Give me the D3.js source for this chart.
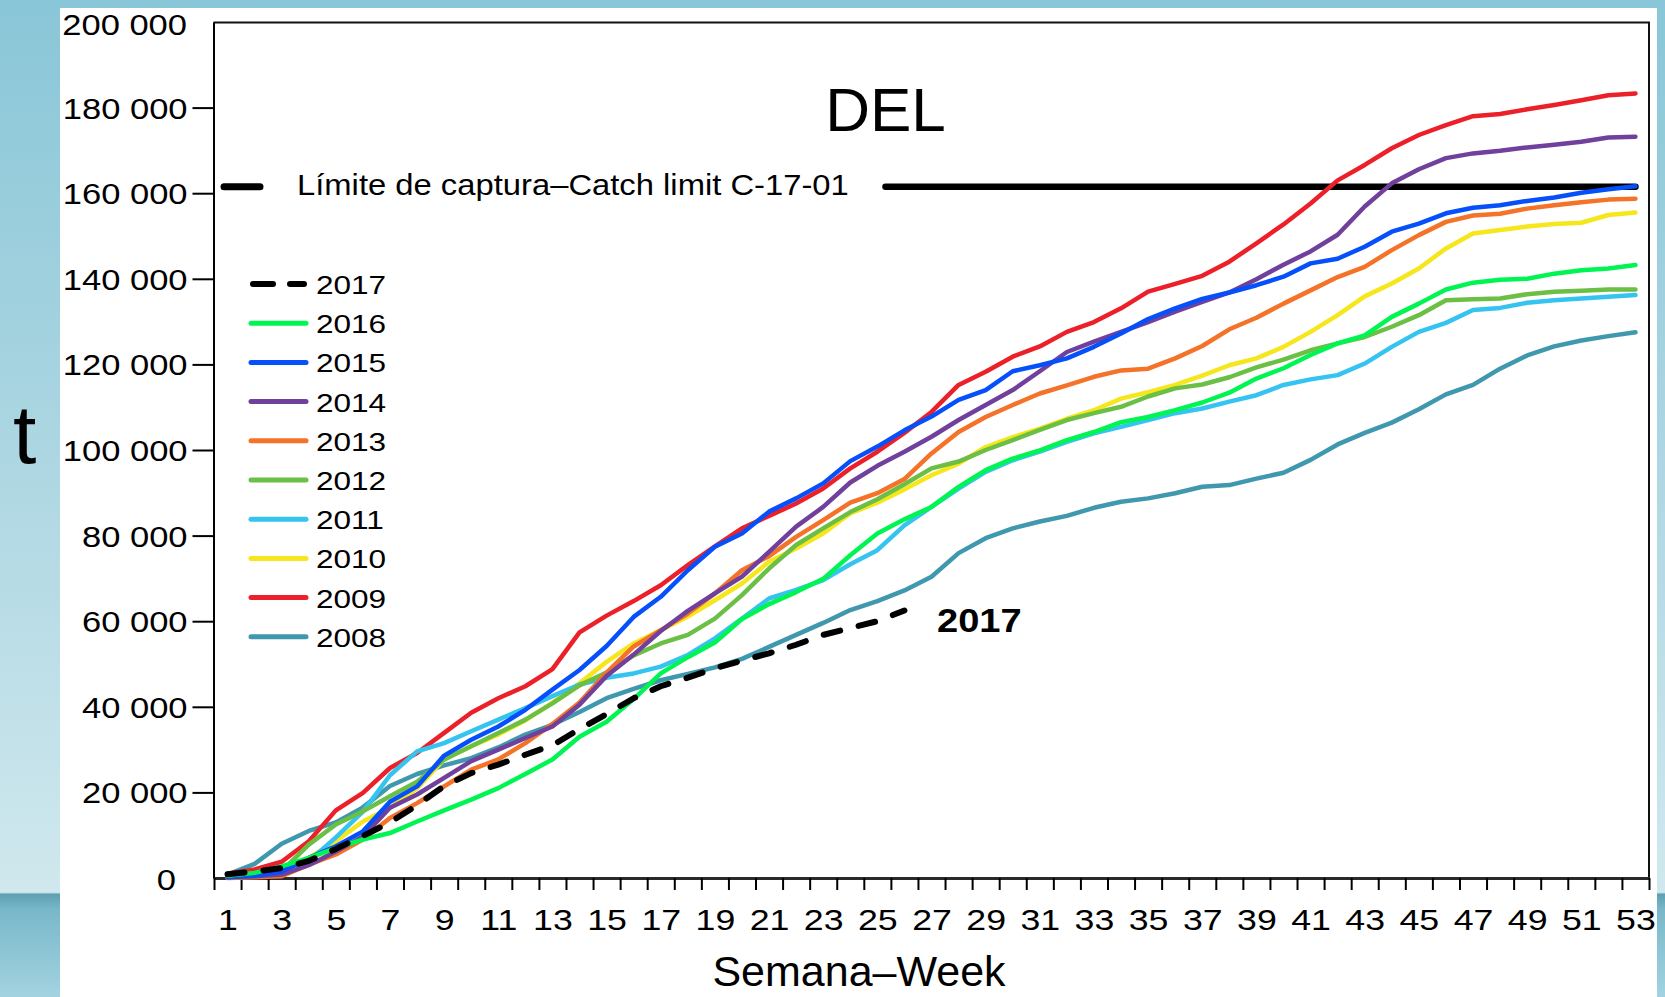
<!DOCTYPE html>
<html lang="en">
<head>
<meta charset="UTF-8">
<title>DEL - captura acumulada por semana</title>
<script src="https://d3js.org/d3.v7.min.js"></script>
<style>
    body { margin: 0; overflow: hidden; background: #fff; }
    svg { display: block; }
    text { font-family: "Liberation Sans", Arial, sans-serif; fill: #000; }
</style>
</head>
<body>
<svg width="1665" height="997"></svg>
<script>
    // cumulative catch (t) per week
    const years = [2017, 2016, 2015, 2014, 2013, 2012, 2011, 2010, 2009, 2008];
    const colors = ["#000000", "#00f552", "#0550fa", "#70409c", "#f47328", "#6cbf45", "#35c4f0", "#f6e61c", "#ec2029", "#3f98ae"];

    const catch2008 = [800, 3300, 8000, 11000, 13000, 16500, 21500, 24300, 26300, 28000, 30500, 33500, 35800, 38800, 42000, 44200, 46200, 47700, 49200, 51200, 54000, 56800, 59600, 62600, 64700, 67200, 70400, 75900, 79400, 81700, 83300, 84600, 86500, 87900, 88700, 89900, 91400, 91800, 93300, 94700, 97700, 101300, 104000, 106400, 109500, 113000, 115200, 119000, 122100, 124200, 125600, 126600, 127500];
    const catch2009 = [1000, 2000, 3800, 8600, 15800, 19900, 25700, 29200, 33900, 38600, 42000, 44800, 48800, 57400, 61300, 64700, 68400, 73100, 77500, 81700, 84600, 87500, 91000, 95700, 99600, 104000, 108900, 115200, 118300, 121800, 124200, 127600, 129900, 133100, 137000, 138800, 140700, 144000, 148300, 152700, 157600, 163000, 166600, 170500, 173600, 175900, 178000, 178500, 179600, 180600, 181700, 182900, 183300];
    const catch2010 = [200, 400, 1200, 4700, 8600, 13200, 16400, 21000, 27700, 30800, 33500, 36800, 41000, 45500, 50500, 54800, 57900, 61100, 64900, 68800, 73900, 77000, 80500, 85200, 87700, 90800, 94100, 96800, 100700, 103000, 105000, 107300, 109300, 112000, 113500, 115200, 117400, 119800, 121400, 124100, 127600, 131500, 135900, 138900, 142400, 147100, 150600, 151400, 152200, 152800, 153100, 154900, 155500];
    const catch2011 = [200, 400, 1500, 3900, 9500, 15500, 24000, 29600, 31500, 34300, 37000, 39700, 42500, 45200, 46800, 47800, 49400, 52100, 56000, 60600, 65300, 67300, 69600, 73300, 76600, 82400, 86700, 91000, 94900, 97600, 99600, 101900, 103900, 105400, 107000, 108600, 109700, 111300, 112800, 115200, 116500, 117500, 120200, 124100, 127600, 129700, 132700, 133200, 134400, 135000, 135400, 135800, 136200];
    const catch2012 = [200, 500, 1600, 7800, 12500, 15600, 19100, 22500, 27700, 30800, 33900, 37000, 40800, 45000, 48000, 52000, 54800, 56800, 60600, 66100, 72300, 77800, 81700, 85500, 88500, 92000, 95700, 97300, 100000, 102300, 104700, 107000, 108600, 110100, 112500, 114400, 115300, 117000, 119300, 121100, 123300, 124900, 126400, 128800, 131500, 135000, 135200, 135400, 136400, 137000, 137200, 137500, 137500];
    const catch2013 = [0, 200, 400, 3100, 5500, 9000, 14000, 17500, 21400, 25300, 27700, 31500, 36000, 41000, 48000, 54100, 57900, 61800, 66500, 71900, 75200, 79700, 83600, 87700, 89900, 93200, 99200, 104200, 107700, 110500, 113200, 115100, 117100, 118600, 119000, 121400, 124300, 128200, 130900, 134200, 137300, 140400, 142800, 146700, 150200, 153300, 154800, 155200, 156400, 157200, 157900, 158500, 158700];
    const catch2014 = [200, 400, 800, 3000, 6200, 9700, 16400, 19500, 23400, 27300, 30000, 32700, 35400, 40500, 47200, 52200, 57700, 62400, 66500, 70400, 76200, 82100, 86700, 92400, 96300, 99600, 103100, 107000, 110500, 114000, 118400, 122900, 125300, 127600, 129900, 132300, 134600, 136800, 139900, 143300, 146400, 150300, 156900, 162300, 165600, 168200, 169300, 169900, 170700, 171300, 172000, 173000, 173200];
    const catch2015 = [200, 500, 1500, 4700, 7400, 10900, 17800, 21400, 28600, 32300, 35400, 39300, 44000, 48600, 54200, 61000, 65700, 71900, 77400, 80500, 85600, 88700, 92200, 97400, 100800, 104600, 107800, 111700, 114000, 118400, 119800, 121400, 124100, 127200, 130600, 133100, 135300, 136800, 138500, 140500, 143600, 144700, 147500, 151000, 152900, 155300, 156600, 157200, 158200, 159000, 160100, 160900, 161600];
    const catch2016 = [500, 1200, 2700, 4700, 7000, 9000, 10500, 13200, 15800, 18300, 21000, 24300, 27700, 33000, 36500, 41800, 47800, 51600, 55000, 60500, 64000, 66800, 69900, 75400, 80500, 83800, 86700, 91400, 95300, 98000, 99900, 102300, 104200, 106500, 107700, 109300, 111100, 113400, 116700, 119100, 122200, 124900, 126800, 131100, 134200, 137500, 139100, 139800, 140000, 141200, 142000, 142400, 143200];
    const catch2017 = [900, 1500, 2300, 4000, 6800, 9800, 13000, 17000, 21500, 24500, 26500, 28800, 31000, 34800, 38300, 42000, 44800, 46800, 49000, 50800, 52500, 54500, 56800, 58400, 60000, 62500];

    const catchLimit = 161500;      // C-17-01
    const limitFromWeek = 25.3;     // the limit line starts after its label
    const yTicks = [20000, 40000, 60000, 80000, 100000, 120000, 140000, 160000, 180000];
    const weekTicks = d3.range(0.5, 54, 1);
    const weekLabels = d3.range(1, 54, 2);

    const seriesValues = {2008: catch2008, 2009: catch2009, 2010: catch2010, 2011: catch2011, 2012: catch2012,
                          2013: catch2013, 2014: catch2014, 2015: catch2015, 2016: catch2016, 2017: catch2017};

    const W = 1665, H = 997;
    const SX = 1.19;   // the source picture is stretched sideways, so is its text
    const svg = d3.select("svg");

    // blue slide background with the white sheet on top
    const bg = svg.append("defs").append("linearGradient")
        .attr("id", "bg").attr("gradientUnits", "userSpaceOnUse")
        .attr("x1", 0).attr("y1", 0).attr("x2", 0).attr("y2", H);
    [[0, "#89c6d7"], [0.45, "#acd6e2"], [0.895, "#d0e8ee"], [0.897, "#5e9fb2"], [0.912, "#78b8ca"], [1, "#a3d3e0"]]
        .forEach(([o, c]) => bg.append("stop").attr("offset", o).attr("stop-color", c));
    svg.append("rect").attr("width", W).attr("height", H).attr("fill", "url(#bg)");
    svg.append("rect").attr("x", 60).attr("y", 8).attr("width", 1597).attr("height", H - 8).attr("fill", "#fff");

    const x = d3.scaleLinear().domain([0.5, 53.5]).range([214, 1649]);
    const y = d3.scaleLinear().domain([0, 200000]).range([878, 22]);

    const fmt = v => d3.format(",")(v).replace(/,/g, " ");

    function label(txt, px, py, size, anchor, sx, weight) {
        return svg.append("text")
            .attr("transform", `translate(${px},${py}) scale(${sx},1)`)
            .attr("text-anchor", anchor)
            .attr("font-size", size)
            .attr("font-weight", weight || "normal")
            .text(txt);
    }

    // frame top and right
    svg.append("path")
        .attr("d", `M${x(0.5) - 0.5},22.5H${x(53.5)}V878`)
        .attr("fill", "none").attr("stroke", "#111").attr("stroke-width", 2);

    // y axis
    const yAxis = svg.append("g")
        .attr("transform", "translate(213.5,0)")
        .call(d3.axisLeft(y).tickValues(yTicks).tickSize(21).tickSizeOuter(0).tickFormat(fmt));
    yAxis.attr("font-family", null).attr("font-size", null);
    yAxis.select(".domain").attr("stroke", "#000").attr("stroke-width", 2);
    yAxis.selectAll(".tick line").attr("stroke", "#000").attr("stroke-width", 2);
    yAxis.selectAll(".tick text")
        .attr("font-size", 29)
        .attr("x", -26 / SX)
        .attr("dy", "0.36em")
        .attr("transform", `scale(${SX},1)`);
    label(fmt(200000), 187, y(200000) + 13, 29, "end", SX);
    label("0", 176, y(0) + 12, 29, "end", SX);

    // x axis: a tick at every week boundary, labels on odd weeks
    const xAxis = svg.append("g")
        .attr("transform", "translate(0,878)")
        .call(d3.axisBottom(x).tickValues(weekTicks).tickSize(12).tickSizeOuter(0).tickFormat(""));
    xAxis.select(".domain").attr("stroke", "#2a2a2a").attr("stroke-width", 3);
    xAxis.selectAll(".tick line").attr("stroke", "#000").attr("stroke-width", 2);

    const xLab = svg.append("g")
        .attr("transform", "translate(0,878)")
        .call(d3.axisBottom(x).tickValues(weekLabels).tickSize(0).tickPadding(31).tickFormat(d3.format("d")));
    xLab.attr("font-family", null).attr("font-size", null);
    xLab.select(".domain").remove();
    xLab.selectAll(".tick text").attr("font-size", 30).attr("transform", `scale(${SX},1)`);

    // catch limit
    svg.append("line")
        .attr("x1", x(limitFromWeek)).attr("x2", x(53))
        .attr("y1", y(catchLimit)).attr("y2", y(catchLimit))
        .attr("stroke", "#000").attr("stroke-width", 6.5).attr("stroke-linecap", "round");
    svg.append("line")
        .attr("x1", 224).attr("x2", 260)
        .attr("y1", y(catchLimit)).attr("y2", y(catchLimit))
        .attr("stroke", "#000").attr("stroke-width", 7).attr("stroke-linecap", "round");
    label("Límite de captura–Catch limit C-17-01", 297, y(catchLimit) + 8, 29, "start", 1.13);

    // series, oldest at the bottom
    const line = d3.line()
        .x((d, i) => x(i + 1))
        .y(d => y(d));

    const order = years.slice().reverse();
    svg.append("g")
        .selectAll("path")
        .data(order)
        .join("path")
        .attr("d", yr => line(seriesValues[yr]))
        .attr("fill", "none")
        .attr("stroke", yr => colors[years.indexOf(yr)])
        .attr("stroke-width", yr => yr === 2017 ? 6 : 4.5)
        .attr("stroke-dasharray", yr => yr === 2017 ? "17,19" : null)
        .attr("stroke-linecap", "round")
        .attr("stroke-linejoin", "round");

    label("2017", 937, 632, 34, "start", 1.12, "bold");

    // legend
    const legend = svg.append("g");
    years.forEach((yr, i) => {
        const ly = 284 + i * 39.2;
        legend.append("line")
            .attr("x1", yr === 2017 ? 253 : 251).attr("x2", yr === 2017 ? 304 : 306)
            .attr("y1", ly).attr("y2", ly)
            .attr("stroke", colors[i])
            .attr("stroke-width", yr === 2017 ? 6 : 5)
            .attr("stroke-dasharray", yr === 2017 ? "20,17" : null)
            .attr("stroke-linecap", "round");
        legend.append("text")
            .attr("transform", `translate(316,${ly + 10}) scale(${SX},1)`)
            .attr("font-size", 26.5)
            .text(yr);
    });

    // titles
    label("DEL", 885.5, 131, 62, "middle", 1);
    label("t", 13, 463, 84, "start", 1);
    label("Semana–Week", 859, 986, 43, "middle", 1);
</script>
</body>
</html>
